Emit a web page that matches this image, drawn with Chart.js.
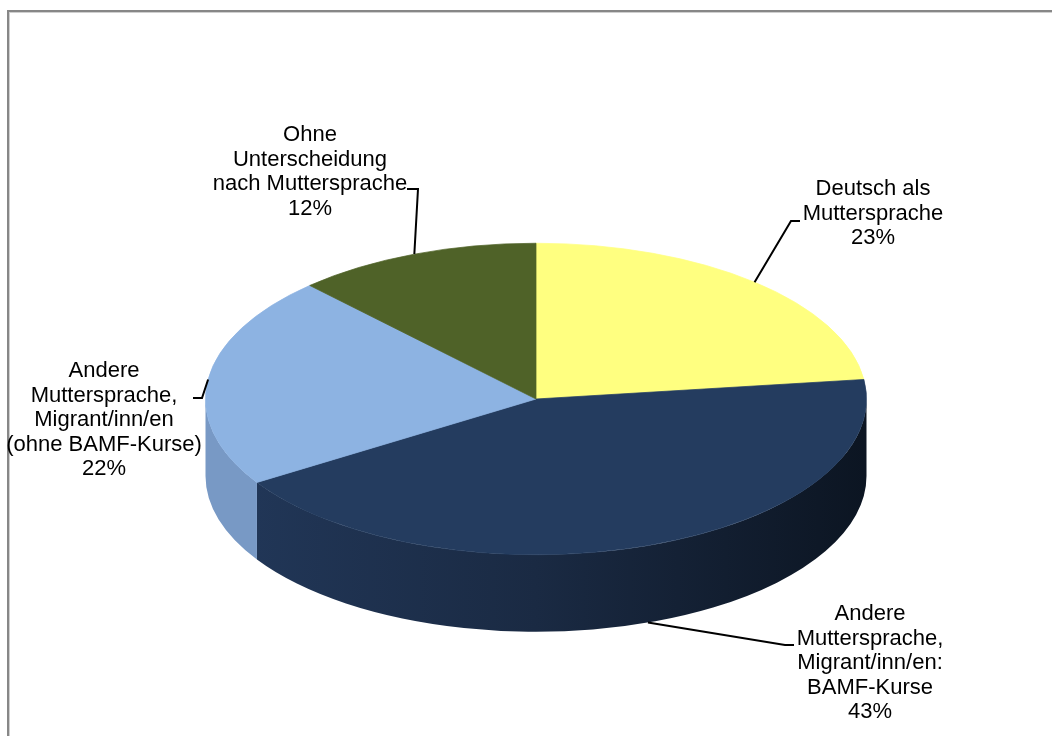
<!DOCTYPE html>
<html>
<head>
<meta charset="utf-8">
<script src="https://cdn.jsdelivr.net/npm/chart.js@4"></script>
<style>
  html, body { margin: 0; padding: 0; background: #fff; overflow: hidden; }
  #rahmen { position: absolute; left: 7px; top: 10px; width: 1200px; height: 900px; border: 2px solid #878787; box-shadow: inset 1px 1px 0 #cfcfcf; }
  #wrap { position: absolute; left: 0; top: 0; width: 1052px; height: 736px; }
</style>
</head>
<body>
<div id="rahmen"></div>
<div id="wrap"><canvas id="myChart" width="1052" height="736"></canvas></div>
<script>
// Daten
const kategorien = [
  ["Deutsch als", "Muttersprache"],
  ["Andere", "Muttersprache,", "Migrant/inn/en:", "BAMF-Kurse"],
  ["Andere", "Muttersprache,", "Migrant/inn/en", "(ohne BAMF-Kurse)"],
  ["Ohne", "Unterscheidung", "nach Muttersprache"]
]
const anteile = [23, 43, 22, 12]

// Farben Oberseite / Seitenwand
const farbenOben = ["#ffff80", "#243c5f", "#8db3e2", "#4f6228"]
const farbenSeite = ["#d6d66a", null, "#7899c5", "#3e4e1f"]

// 3D-Darstellung
const MITTE_Y = 399
const STAUCHUNG = 156 / 331
const TIEFE = 77

// Lage der Beschriftungen (Textmitte, erste Grundlinie, Knickpunkte der Linie)
const beschriftungen = [
  { x: 873, y: 195, knick: [[791, 221], [800, 221]] },
  { x: 870, y: 620, knick: [[785, 645], [794, 645]] },
  { x: 104, y: 377, knick: [[202, 398], [193, 398]] },
  { x: 310, y: 141, knick: [[418, 189], [407, 189]] }
]
const ZEILE = 24.5

const pie3d = {
  id: "pie3d",
  beforeDatasetsDraw(chart) {
    const ctx = chart.ctx
    const arcs = chart.getDatasetMeta(0).data
    const { x, y, outerRadius: r } = arcs[0]
    const ry = r * STAUCHUNG

    // Seitenwand nur vorne sichtbar (0 .. PI)
    const verlauf = ctx.createLinearGradient(x - r, 0, x + r, 0)
    verlauf.addColorStop(0, "#22385a")
    verlauf.addColorStop(0.5, "#1a2a43")
    verlauf.addColorStop(1, "#0c1522")
    arcs.forEach((arc, i) => {
      const a0 = Math.max(arc.startAngle, 0)
      const a1 = Math.min(arc.endAngle, Math.PI)
      if (a1 <= a0) return
      ctx.beginPath()
      ctx.ellipse(x, MITTE_Y, r, ry, 0, a0, a1)
      ctx.ellipse(x, MITTE_Y + TIEFE, r, ry, 0, a1, a0, true)
      ctx.closePath()
      ctx.fillStyle = farbenSeite[i] || verlauf
      ctx.fill()
    })

    // Oberseite gestaucht zeichnen
    ctx.save()
    ctx.translate(0, MITTE_Y)
    ctx.scale(1, STAUCHUNG)
    ctx.translate(0, -y)
  },
  afterDatasetsDraw(chart) {
    chart.ctx.restore()
  },
  afterDraw(chart) {
    const ctx = chart.ctx
    const arcs = chart.getDatasetMeta(0).data
    ctx.save()
    ctx.font = '22px "Liberation Sans", Arial, sans-serif'
    ctx.textAlign = "center"
    ctx.textBaseline = "alphabetic"
    ctx.fillStyle = "#000"
    ctx.strokeStyle = "#000"
    ctx.lineWidth = 2
    arcs.forEach((arc, i) => {
      const b = beschriftungen[i]
      const mitte = (arc.startAngle + arc.endAngle) / 2
      const r = arc.outerRadius
      let px = arc.x + r * Math.cos(mitte)
      let py = MITTE_Y + r * STAUCHUNG * Math.sin(mitte)
      if (Math.sin(mitte) > 0.5) py += TIEFE
      ctx.beginPath()
      ctx.moveTo(px, py)
      b.knick.forEach(p => ctx.lineTo(p[0], p[1]))
      ctx.stroke()
      const zeilen = kategorien[i].concat([anteile[i] + "%"])
      zeilen.forEach((t, k) => ctx.fillText(t, b.x, b.y + k * ZEILE))
    })
    ctx.restore()
  }
}

const ctx = document.getElementById("myChart").getContext("2d")
const myChart = new Chart(ctx, {
  type: "pie",
  data: {
    labels: kategorien.map(k => k.join(" ")),
    datasets: [{
      data: anteile,
      backgroundColor: farbenOben,
      borderColor: farbenOben,
      borderWidth: 1,
      clip: false
    }]
  },
  options: {
    responsive: false,
    animation: false,
    layout: { padding: { left: 20, right: 0, top: 37, bottom: 37 } },
    plugins: {
      legend: { display: false },
      tooltip: { enabled: false }
    }
  },
  plugins: [pie3d]
})
</script>
</body>
</html>
